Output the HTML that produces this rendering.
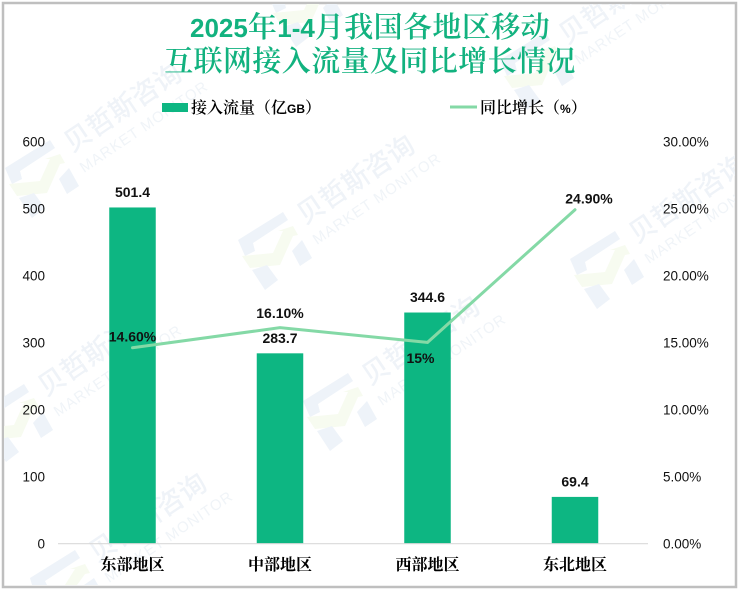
<!DOCTYPE html>
<html lang="zh-CN">
<head>
<meta charset="utf-8">
<title>2025年1-4月我国各地区移动互联网接入流量及同比增长情况</title>
<style>
html,body{margin:0;padding:0;background:#fff;width:740px;height:591px;overflow:hidden}
svg{display:block;overflow:hidden}
text{font-family:"Liberation Sans","Noto Sans CJK SC",sans-serif}
.title{font-family:"Noto Serif CJK SC",serif;font-size:29px;font-weight:600;fill:#12b27f;text-anchor:middle;letter-spacing:.4px}
.title tspan{font-family:"Liberation Sans",sans-serif;font-size:26px;font-weight:700;letter-spacing:0}
.legend{font-family:"Liberation Sans","Noto Serif CJK SC",serif;font-size:16px;font-weight:600;fill:#000}
.cat{font-family:"Noto Serif CJK SC",serif;font-size:16px;font-weight:700;fill:#000;text-anchor:middle}
.tick{font-size:13.5px;fill:#111}
.val{font-size:14px;font-weight:700;fill:#111;text-anchor:middle}
.wm-cn{font-family:"Noto Sans CJK SC",sans-serif;font-size:27px;font-weight:500;fill:#eff3f8}
.wm-en{font-size:15px;fill:#f0f4f8;letter-spacing:1px}
</style>
</head>
<body>
<svg id="chart" xmlns="http://www.w3.org/2000/svg" width="740" height="591" viewBox="0 0 740 591">
  <defs><clipPath id="frame-clip"><rect x="4" y="4" width="731" height="582"/></clipPath></defs>
  <rect x="3" y="3" width="733" height="584" fill="#fff" stroke="#bfbfbf" stroke-width="2.5"/>
  <g id="watermarks" clip-path="url(#frame-clip)"></g>
  <text class="title" x="370" y="37"><tspan>2025</tspan>年<tspan>1-4</tspan>月我国各地区移动</text>
  <text class="title" x="370" y="71">互联网接入流量及同比增长情况</text>
  <g>
    <rect x="162" y="103" width="26" height="9" fill="#0db682"/>
    <text class="legend" x="191" y="113">接入流量（亿<tspan font-size="12" font-weight="700">GB</tspan>）</text>
  </g>
  <g>
    <line x1="450" y1="107" x2="477" y2="107" stroke="#84d9a6" stroke-width="3"/>
    <text class="legend" x="480" y="113">同比增长（<tspan font-size="12" font-weight="700">%</tspan>）</text>
  </g>
  <g id="plot"></g>
</svg>
<script>
const categories = ['东部地区', '中部地区', '西部地区', '东北地区'];
const trafficValues = [501.4, 283.7, 344.6, 69.4];
const growthValues = [14.6, 16.1, 15, 24.9];
const leftTicks = [0, 100, 200, 300, 400, 500, 600];
const rightTicks = [0, 5, 10, 15, 20, 25, 30];
const growthLabelPlacement = ['above-near', 'above', 'below-left', 'above-right'];

const NS = 'http://www.w3.org/2000/svg';
const plot = document.getElementById('plot');
const plotLeft = 58.75, plotTop = 141.4, plotBottom = 543.4;
const leftMax = 600, rightMax = 30;
const band = 147.5;
const plotRight = 648;
const yLeft = v => plotBottom - (v / leftMax) * (plotBottom - plotTop);
const yRight = v => plotBottom - (v / rightMax) * (plotBottom - plotTop);
const xCenter = i => plotLeft + band * (i + 0.5);
const barWidth = 46.5;
function make(tag, attrs, text) {
  const el = document.createElementNS(NS, tag);
  for (const k in attrs) el.setAttribute(k, attrs[k]);
  if (text !== undefined) el.textContent = text;
  return el;
}
function growthText(v) {
  return (Number.isInteger(v) ? String(v) : v.toFixed(2)) + '%';
}

leftTicks.forEach(function (t) {
  const el = make('text', {class: 'tick', x: 45, y: yLeft(t) + 5, 'text-anchor': 'end'}, String(t));
  
  
  plot.appendChild(el);
});
rightTicks.forEach(function (t) {
  const el = make('text', {class: 'tick', x: 663, y: yRight(t) + 5}, t.toFixed(2) + '%');
  
  
  plot.appendChild(el);
});

trafficValues.forEach(function (v, i) {
  const top = yLeft(v);
  const bar = make('rect', {x: xCenter(i) - barWidth / 2, y: top, width: barWidth, height: plotBottom - top, fill: '#0db682'});
  
  
  plot.appendChild(bar);
});

const axis = make('line', {x1: 58, y1: plotBottom + 0.3, x2: plotRight, y2: plotBottom + 0.3, stroke: '#d9d9d9', 'stroke-width': 1.2});


plot.appendChild(axis);

categories.forEach(function (c, i) {
  const el = make('text', {class: 'cat', x: xCenter(i), y: 570}, c);
  
  
  plot.appendChild(el);
});

const line = make('polyline', {
  points: growthValues.map(function (v, i) { return xCenter(i) + ',' + yRight(v); }).join(' '),
  fill: 'none', stroke: '#84d9a6', 'stroke-width': 3, 'stroke-linejoin': 'miter', 'stroke-linecap': 'round'
});


plot.appendChild(line);

trafficValues.forEach(function (v, i) {
  const el = make('text', {class: 'val', x: xCenter(i), y: yLeft(v) - 10.5}, v.toFixed(1));
  
  
  plot.appendChild(el);
});
growthValues.forEach(function (v, i) {
  const p = growthLabelPlacement[i];
  const dx = p === 'above-right' ? 14 : p === 'below-left' ? -7 : 0;
  const dy = p === 'below-left' ? 20.5 : p === 'above' ? -9.7 : -6.2;
  const el = make('text', {class: 'val', x: xCenter(i) + dx, y: yRight(v) + dy}, growthText(v));
  
  
  plot.appendChild(el);
});

const wmLayer = document.getElementById('watermarks');
const fullLogo = [
  ['-37,-13 8,-41 13,-33 -22,-10 -20,-2 -30,3', '#eef3f9'],
  ['-33,3 -2,0 8,-22 3,-22 18,-27 23,-18 18,-17 5,12 -25,15', '#f7fbf0'],
  ['27,-13 37,5 25,13 17,-2', '#eef3f9'],
  ['-23,17 -8,12 3,27 -10,37', '#eef3f9']
];
const cutLogo = [
  ['-37,-13 8,-41 13,-33 -22,-10 -20,-6 -35,-6', '#eef3f9'],
  ['-2,-6 8,-22 3,-22 18,-27 23,-18 18,-17 10,-6', '#f7fbf0'],
  ['27,-13 31,-6 20,-6 17,-6', '#eef3f9']
];
[[42, 181], [275, 253], [607, 272], [537, 73], [16, 425], [340, 414], [67, 591], [306, 10]].forEach(function (o) {
  const g = make('g', {transform: 'translate(' + o[0] + ',' + o[1] + ')'});
  
  
  const mark = make('g', {});
  
  
  (o[1] > 560 ? cutLogo : fullLogo).forEach(function (p) {
    mark.appendChild(make('polygon', {points: p[0], fill: p[1]}));
  });
  g.appendChild(mark);
  const cn = make('text', {class: 'wm-cn', x: 30, y: -28, transform: 'rotate(-34 30 -28)'}, '贝哲斯咨询');
  
  
  g.appendChild(cn);
  const en = make('text', {class: 'wm-en', x: 42, y: -8, transform: 'rotate(-34 42 -8)'}, 'MARKET MONITOR');
  
  
  g.appendChild(en);
  wmLayer.appendChild(g);
});
</script>
</body>
</html>
